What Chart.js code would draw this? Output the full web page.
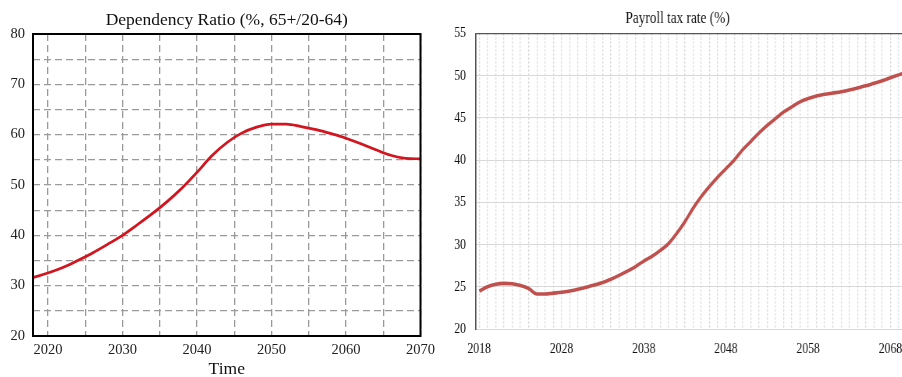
<!DOCTYPE html>
<html>
<head>
<meta charset="utf-8">
<script src="https://cdn.jsdelivr.net/npm/chart.js@4/dist/chart.umd.min.js"></script>
<style>
  html, body { margin: 0; padding: 0; background: #fff; }
  body { width: 902px; height: 377px; overflow: hidden; position: relative; }
  #ratioBox { position: absolute; left: 0; top: 0; width: 440px; height: 377px; }
  /* the payroll panel is drawn wide and squeezed horizontally */
  #taxBox { position: absolute; left: 440px; top: 0; width: 636px; height: 377px;
            transform: scaleX(0.78); transform-origin: 0 0; }
</style>
</head>
<body>
<div id="ratioBox"><canvas id="ratioChart"></canvas></div>
<div id="taxBox"><canvas id="taxChart"></canvas></div>
<script>
// Old-age dependency ratio (%, 65+/20-64)
const ratioYears = [2018, 2020, 2022, 2024, 2026, 2028, 2030, 2032, 2034, 2036, 2038, 2040, 2042,
  2044, 2046, 2048, 2050, 2052, 2054, 2056, 2058, 2060, 2062, 2064, 2066, 2068, 2070];
const dependencyRatio = [31.6, 32.5, 33.6, 35.0, 36.5, 38.2, 40.0, 42.1, 44.3, 46.7, 49.4, 52.5, 55.8,
  58.4, 60.3, 61.5, 62.1, 62.1, 61.6, 61.0, 60.2, 59.3, 58.2, 57.0, 55.9, 55.3, 55.2];
const ratioXTicks = [2020, 2025, 2030, 2035, 2040, 2045, 2050, 2055, 2060, 2065, 2070];

// Payroll tax rate (%)
const taxYears = [2018, 2019, 2020, 2021, 2022, 2023, 2024, 2025, 2026, 2027, 2028, 2029, 2030,
  2031, 2032, 2033, 2034, 2035, 2036, 2037, 2038, 2039, 2040, 2041, 2042, 2043, 2044, 2045, 2046,
  2047, 2048, 2049, 2050, 2051, 2052, 2053, 2054, 2055, 2056, 2057, 2058, 2059, 2060, 2061, 2062,
  2063, 2064, 2065, 2066, 2067, 2068, 2069, 2070];
const payrollTax = [24.5, 25.0, 25.3, 25.4, 25.35, 25.15, 24.8, 24.15, 24.15, 24.25, 24.35, 24.5, 24.7,
  24.95, 25.2, 25.5, 25.9, 26.35, 26.85, 27.4, 28.05, 28.6, 29.3, 30.1, 31.3, 32.7, 34.3, 35.7, 36.9,
  38.0, 39.0, 40.0, 41.2, 42.2, 43.2, 44.1, 44.9, 45.7, 46.3, 46.9, 47.3, 47.6, 47.8, 47.95, 48.1,
  48.3, 48.55, 48.8, 49.1, 49.4, 49.75, 50.1, 50.45];
const taxXTicks = [];
for (let y = 2018; y <= 2071; y++) taxXTicks.push(y);
const taxXLabels = [2018, 2028, 2038, 2048, 2058, 2068];

const SERIF = "'Liberation Serif', 'Times New Roman', serif";
const SQUEEZE = 0.78; // horizontal scale applied to the payroll panel

// Solid black frame around the plot area
const frame = {
  id: 'frame',
  afterDraw(chart) {
    const a = chart.chartArea, ctx = chart.ctx;
    ctx.save();
    ctx.strokeStyle = '#000';
    ctx.lineWidth = 2;
    ctx.strokeRect(a.left, a.top, a.right - a.left, a.bottom - a.top);
    ctx.restore();
  }
};

new Chart(document.getElementById('ratioChart'), {
  type: 'line',
  data: {
    datasets: [{
      data: ratioYears.map((y, i) => ({ x: y, y: dependencyRatio[i] })),
      borderColor: '#d2151e',
      borderWidth: 2.7,
      pointRadius: 0,
      cubicInterpolationMode: 'monotone',
      fill: false
    }]
  },
  options: {
    responsive: true,
    maintainAspectRatio: false,
    animation: false,
    layout: { padding: { left: 0, right: 18, top: 0, bottom: 0 } },
    plugins: {
      legend: { display: false },
      tooltip: { enabled: false },
      title: {
        display: true,
        fullSize: false,
        text: 'Dependency Ratio (%, 65+/20-64)',
        color: '#111',
        font: { family: SERIF, size: 17.5, weight: 'normal', lineHeight: 1.2 },
        padding: { top: 10, bottom: 3 }
      }
    },
    scales: {
      x: {
        type: 'linear',
        min: 2018,
        max: 2070,
        afterBuildTicks: s => { s.ticks = ratioXTicks.map(v => ({ value: v })); },
        afterFit: s => { s.height = 41; },
        ticks: {
          autoSkip: false,
          maxRotation: 0,
          padding: 5,
          color: '#222',
          font: { family: SERIF, size: 14.5 },
          callback: v => (v % 10 === 0 ? String(v) : '')
        },
        grid: { color: '#9a9a9a', lineWidth: 1.3, drawTicks: false },
        border: { display: false, dash: [7, 4] },
        title: {
          display: true,
          text: 'Time',
          color: '#111',
          font: { family: SERIF, size: 17.5, lineHeight: 1 },
          padding: { top: 0, bottom: -1.5 }
        }
      },
      y: {
        min: 20,
        max: 80,
        afterFit: s => { s.width = 33; },
        ticks: {
          stepSize: 5,
          autoSkip: false,
          padding: 8,
          color: '#222',
          font: { family: SERIF, size: 14.5 },
          callback: v => (v % 10 === 0 ? String(v) : '')
        },
        grid: { color: '#9a9a9a', lineWidth: 1.3, drawTicks: false },
        border: { display: false, dash: [7, 4] }
      }
    }
  },
  plugins: [frame]
});

new Chart(document.getElementById('taxChart'), {
  type: 'line',
  data: {
    datasets: [{
      data: taxYears.map((y, i) => ({ x: y, y: payrollTax[i] })),
      borderColor: '#c0504d',
      borderWidth: 3.6,
      pointRadius: 0,
      cubicInterpolationMode: 'monotone',
      fill: false
    }]
  },
  options: {
    responsive: true,
    maintainAspectRatio: false,
    animation: false,
    layout: { padding: { left: 0, right: 21 / SQUEEZE, top: 0, bottom: 0 } },
    plugins: {
      legend: { display: false },
      tooltip: { enabled: false },
      title: {
        display: true,
        text: 'Payroll tax rate (%)',
        color: '#111',
        font: { family: SERIF, size: 17, weight: 'normal', lineHeight: 1.2 },
        padding: { top: 8, bottom: 5.1 }
      }
    },
    scales: {
      x: {
        type: 'linear',
        min: 2017.6,
        max: 2071,
        afterBuildTicks: s => { s.ticks = taxXTicks.map(v => ({ value: v })); },
        afterFit: s => { s.height = 48; },
        ticks: {
          autoSkip: false,
          maxRotation: 0,
          padding: 11,
          color: '#111',
          font: { family: SERIF, size: 15 },
          callback: v => (taxXLabels.includes(v) ? String(v) : '')
        },
        grid: { color: '#d4d4d4', lineWidth: 1 / SQUEEZE, drawTicks: false },
        border: { display: false, dash: [2, 2] }
      },
      y: {
        min: 20,
        max: 55,
        afterFit: s => { s.width = 36 / SQUEEZE; },
        ticks: {
          stepSize: 5,
          autoSkip: false,
          padding: 10 / SQUEEZE,
          color: '#111',
          font: { family: SERIF, size: 15 },
          callback: v => String(v)
        },
        grid: {
          color: c => (c.tick && c.tick.value === 55 ? '#555' : '#d9d9d9'),
          lineWidth: c => (c.tick && c.tick.value === 55 ? 1.3 : 1),
          drawTicks: false
        },
        border: { display: true, color: '#555', width: 1.3 / SQUEEZE }
      }
    }
  }
});
</script>
</body>
</html>
